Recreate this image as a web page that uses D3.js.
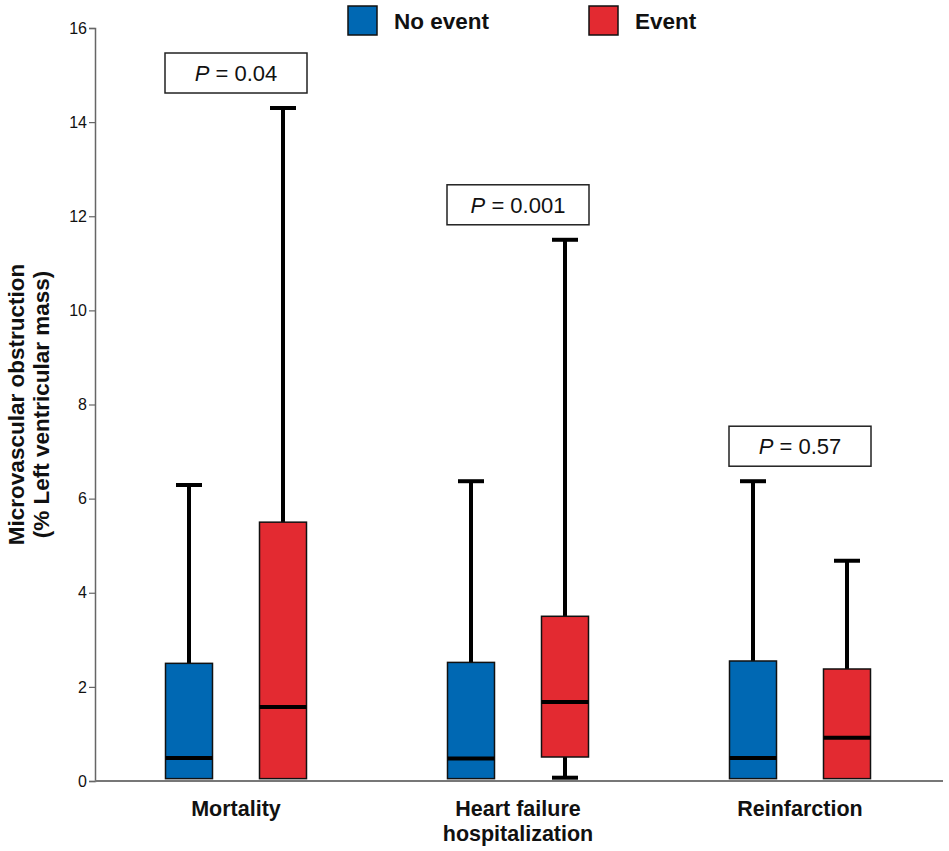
<!DOCTYPE html>
<html>
<head>
<meta charset="utf-8">
<script src="https://cdn.jsdelivr.net/npm/d3@7"></script>
<style>
  body { margin: 0; background: #fff; }
  text { font-family: "Liberation Sans", Arial, sans-serif; }
</style>
</head>
<body>
<div id="chart"></div>
<script>
(function(d3) {
  'use strict';

  var categories = ['Mortality', 'Heart failure|hospitalization', 'Reinfarction'];
  var groups = ['No event', 'Event'];
  var colors = ['#0068b3', '#e32a31'];

  // [low whisker, q1, median, q3, high whisker] per category
  var noEventStats = [
    [0.05, 0.05, 0.49, 2.50, 6.29],
    [0.05, 0.05, 0.48, 2.52, 6.37],
    [0.05, 0.05, 0.49, 2.55, 6.37]
  ];
  var eventStats = [
    [0.05, 0.05, 1.57, 5.50, 14.3],
    [0.07, 0.51, 1.68, 3.50, 11.5],
    [0.05, 0.05, 0.92, 2.38, 4.68]
  ];
  var pValues = ['0.04', '0.001', '0.57'];
  var yTicks = [0, 2, 4, 6, 8, 10, 12, 14, 16];

  var width = 949, height = 851;
  var left = 95, right = 943, top = 28, bottom = 781;

  var svg = d3.select('#chart').append('svg')
    .attr('width', width)
    .attr('height', height);

  var y = d3.scaleLinear().domain([0, 16]).range([bottom, top]);
  var x = d3.scaleBand().domain(categories).range([left, left + 3 * 282]);

  var boxW = 47;
  var capW = 26;

  // y axis
  var yAxis = svg.append('g')
    .attr('transform', 'translate(' + left + ',0)')
    .call(d3.axisLeft(y).tickValues(yTicks).tickSize(6).tickPadding(2));
  yAxis.select('.domain').attr('stroke', '#666').attr('stroke-width', 1.5);
  yAxis.selectAll('.tick line').attr('stroke', '#666').attr('stroke-width', 1.2);
  yAxis.selectAll('.tick text').attr('fill', '#111').style('font-size', '16px');

  // x axis line
  svg.append('line')
    .attr('x1', left).attr('x2', right)
    .attr('y1', y(0)).attr('y2', y(0))
    .attr('stroke', '#777').attr('stroke-width', 2);

  // y title
  var yt = svg.append('text')
    .attr('transform', 'translate(24,' + ((top + bottom) / 2) + ') rotate(-90)')
    .attr('text-anchor', 'middle')
    .style('font-size', '22.5px')
    .style('font-weight', 'bold')
    .attr('fill', '#111');
  yt.append('tspan').attr('x', 0).attr('dy', 0).text('Microvascular obstruction');
  yt.append('tspan').attr('x', 0).attr('dy', 25).text('(% Left ventricular mass)');

  // x labels
  categories.forEach(function(c) {
    var lines = c.split('|');
    var t = svg.append('text')
      .attr('text-anchor', 'middle')
      .attr('x', x(c) + x.bandwidth() / 2)
      .attr('y', 816)
      .style('font-size', '21.5px')
      .style('font-weight', 'bold')
      .attr('fill', '#111');
    lines.forEach(function(l, i) {
      t.append('tspan').attr('x', x(c) + x.bandwidth() / 2).attr('dy', i ? 25 : 0).text(l);
    });
  });

  var boxes = [];
  categories.forEach(function(c, i) {
    boxes.push({ cat: c, grp: groups[0], s: noEventStats[i], color: colors[0] });
    boxes.push({ cat: c, grp: groups[1], s: eventStats[i], color: colors[1] });
  });

  function cx(d) {
    return x(d.cat) + x.bandwidth() / 2 + (d.grp === groups[0] ? -47 : 47);
  }

  var g = svg.selectAll('.box').data(boxes).enter().append('g').attr('class', 'box');

  // whiskers
  g.append('line')
    .attr('x1', cx).attr('x2', cx)
    .attr('y1', function(d) { return y(d.s[4]); })
    .attr('y2', function(d) { return y(d.s[3]); })
    .attr('stroke', '#000').attr('stroke-width', 4);
  g.append('line')
    .attr('x1', function(d) { return cx(d) - capW / 2; })
    .attr('x2', function(d) { return cx(d) + capW / 2; })
    .attr('y1', function(d) { return y(d.s[4]); })
    .attr('y2', function(d) { return y(d.s[4]); })
    .attr('stroke', '#000').attr('stroke-width', 4);
  g.filter(function(d) { return d.s[1] - d.s[0] > 0.1; }).each(function(d) {
    var sel = d3.select(this);
    sel.append('line')
      .attr('x1', cx(d)).attr('x2', cx(d))
      .attr('y1', y(d.s[1])).attr('y2', y(d.s[0]))
      .attr('stroke', '#000').attr('stroke-width', 4);
    sel.append('line')
      .attr('x1', cx(d) - capW / 2).attr('x2', cx(d) + capW / 2)
      .attr('y1', y(d.s[0])).attr('y2', y(d.s[0]))
      .attr('stroke', '#000').attr('stroke-width', 4);
  });

  // box
  g.append('rect')
    .attr('x', function(d) { return cx(d) - boxW / 2; })
    .attr('width', boxW)
    .attr('y', function(d) { return y(d.s[3]); })
    .attr('height', function(d) { return y(d.s[1]) - y(d.s[3]); })
    .attr('fill', function(d) { return d.color; })
    .attr('stroke', '#111').attr('stroke-width', 1.5);

  // median
  g.append('line')
    .attr('x1', function(d) { return cx(d) - boxW / 2; })
    .attr('x2', function(d) { return cx(d) + boxW / 2; })
    .attr('y1', function(d) { return y(d.s[2]); })
    .attr('y2', function(d) { return y(d.s[2]); })
    .attr('stroke', '#000').attr('stroke-width', 4);

  // p-value boxes
  categories.forEach(function(c, i) {
    var mid = x(c) + x.bandwidth() / 2;
    var maxTop = Math.max(noEventStats[i][4], eventStats[i][4]);
    var bBot = y(maxTop) - 15;
    var bx = mid - 47 - boxW / 2 - 0.5;
    var bw = 94 + boxW + 1;
    svg.append('rect')
      .attr('x', bx).attr('y', bBot - 40)
      .attr('width', bw).attr('height', 40)
      .attr('fill', '#fff').attr('stroke', '#222').attr('stroke-width', 1.5);
    var t = svg.append('text')
      .attr('x', mid).attr('y', bBot - 12)
      .attr('text-anchor', 'middle')
      .style('font-size', '22px')
      .attr('fill', '#111');
    t.append('tspan').style('font-style', 'italic').text('P');
    t.append('tspan').text(' = ' + pValues[i]);
  });

  // legend
  var legendX = [348, 589];
  var legend = svg.selectAll('.legend').data(groups).enter().append('g')
    .attr('class', 'legend')
    .attr('transform', function(d, i) { return 'translate(' + legendX[i] + ',6)'; });
  legend.append('rect')
    .attr('width', 29).attr('height', 29)
    .attr('fill', function(d, i) { return colors[i]; })
    .attr('stroke', '#111').attr('stroke-width', 1.5);
  legend.append('text')
    .attr('x', 46).attr('y', 23)
    .style('font-size', '22.5px')
    .style('font-weight', 'bold')
    .attr('fill', '#111')
    .text(function(d) { return d; });

})(window.d3);
</script>
</body>
</html>
